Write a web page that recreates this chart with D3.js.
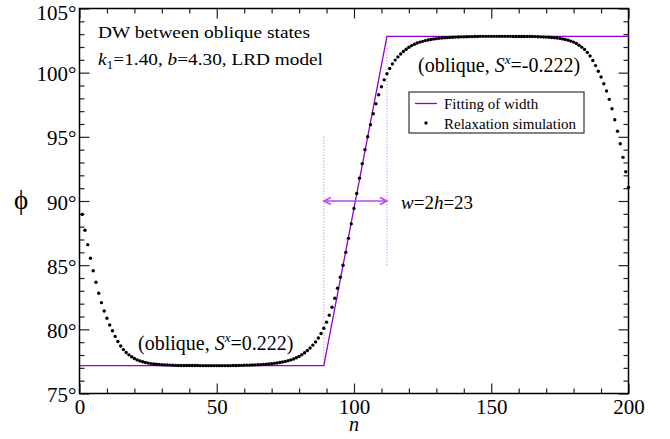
<!DOCTYPE html>
<html>
<head>
<meta charset="utf-8">
<script src="https://cdn.jsdelivr.net/npm/d3@7"></script>
<style>
  html, body { margin: 0; padding: 0; background: #fff; }
  svg text { font-family: "Liberation Serif", "Times New Roman", "DejaVu Serif", serif !important; }
</style>
</head>
<body>
<svg id="chart" width="670" height="439"></svg>
<script>
// ---- data ----
// relaxation simulation: phi (degrees) at n = 1..200
const phiSim = [
  88.95, 87.72, 86.60, 85.54, 84.57, 83.67, 82.81, 82.08, 81.43, 80.86,
  80.34, 79.89, 79.45, 79.05, 78.70, 78.42, 78.20, 78.01, 77.86, 77.73,
  77.62, 77.54, 77.47, 77.41, 77.37, 77.33, 77.30, 77.28, 77.26, 77.24,
  77.23, 77.22, 77.21, 77.20, 77.19, 77.18, 77.18, 77.18, 77.18, 77.18,
  77.18, 77.18, 77.18, 77.17, 77.17, 77.17, 77.17, 77.17, 77.17, 77.17,
  77.17, 77.17, 77.17, 77.17, 77.17, 77.18, 77.18, 77.19, 77.19, 77.20,
  77.21, 77.21, 77.22, 77.23, 77.24, 77.25, 77.27, 77.28, 77.30, 77.32,
  77.35, 77.38, 77.41, 77.45, 77.50, 77.56, 77.62, 77.69, 77.78, 77.89,
  78.02, 78.17, 78.35, 78.55, 78.77, 79.02, 79.33, 79.68, 80.09, 80.56,
  81.10, 81.72, 82.42, 83.20, 84.06, 84.99, 86.00, 87.09, 88.22, 89.41,
  90.59, 91.78, 92.91, 94.00, 95.01, 95.94, 96.80, 97.58, 98.28, 98.90,
  99.44, 99.91, 100.32, 100.67, 100.98, 101.23, 101.45, 101.65, 101.83, 101.98,
  102.11, 102.22, 102.31, 102.38, 102.44, 102.50, 102.55, 102.59, 102.62, 102.65,
  102.68, 102.70, 102.72, 102.73, 102.75, 102.76, 102.77, 102.78, 102.79, 102.79,
  102.80, 102.81, 102.81, 102.82, 102.82, 102.83, 102.83, 102.83, 102.83, 102.83,
  102.83, 102.83, 102.83, 102.83, 102.83, 102.83, 102.83, 102.82, 102.82, 102.82,
  102.82, 102.82, 102.82, 102.82, 102.82, 102.81, 102.80, 102.79, 102.78, 102.77,
  102.76, 102.74, 102.72, 102.70, 102.67, 102.63, 102.59, 102.53, 102.46, 102.38,
  102.27, 102.14, 101.99, 101.80, 101.58, 101.30, 100.95, 100.55, 100.11, 99.66,
  99.14, 98.57, 97.92, 97.19, 96.33, 95.43, 94.46, 93.40, 92.28, 91.05
];
const nStart = 1;

// fitting of width (piecewise linear)
const fitN   = [0, 89, 112, 200];
const fitPhi = [77.17, 77.17, 102.83, 102.83];

// width markers
const widthEdges = [89, 112];
const guideLeft  = [77.17, 95.0];   // dotted guide at n=89
const guideRight = [85.0, 102.83];  // dotted guide at n=112
const arrowPhi = 90;

const xMajor = [0, 50, 100, 150, 200];
const xMinor = [10, 20, 30, 40, 60, 70, 80, 90, 110, 120, 130, 140, 160, 170, 180, 190];
const yMajor = [75, 80, 85, 90, 95, 100, 105];
const yMinor = [76, 77, 78, 79, 81, 82, 83, 84, 86, 87, 88, 89, 91, 92, 93, 94, 96, 97, 98, 99, 101, 102, 103, 104];

// ---- chart ----
const SERIF = "'Liberation Serif', 'Times New Roman', 'DejaVu Serif', serif";
const svg = d3.select("#chart").attr("font-family", SERIF);
const x = d3.scaleLinear().domain([0, 200]).range([79.5, 628.5]);
const y = d3.scaleLinear().domain([75, 105]).range([393.5, 8.5]);

const VIOLET = "#9400d3";
const LIGHTV = "#b84ae6";
const GUIDE  = "#c97ff0";

// axes: ticks inward on all four sides
function styleAxis(g) {
  g.attr("font-family", SERIF);
  g.select(".domain").remove();
  g.selectAll(".tick line").attr("stroke", "#222").attr("stroke-width", 1.2);
}
svg.append("g").attr("transform", `translate(0,${y(75)})`)
  .call(d3.axisBottom(x).tickValues(xMajor).tickSize(-10).tickPadding(0).tickFormat(d3.format("d")))
  .call(styleAxis)
  .call(g => g.selectAll("text").attr("font-size", 21).attr("fill", "#000")
      .attr("dy", null).attr("y", 20.5));
svg.append("g").attr("transform", `translate(0,${y(75)})`)
  .call(d3.axisBottom(x).tickValues(xMinor).tickSize(-5).tickFormat(""))
  .call(styleAxis);
svg.append("g").attr("transform", `translate(0,${y(105)})`)
  .call(d3.axisTop(x).tickValues(xMajor).tickSize(-10).tickFormat(""))
  .call(styleAxis);
svg.append("g").attr("transform", `translate(0,${y(105)})`)
  .call(d3.axisTop(x).tickValues(xMinor).tickSize(-5).tickFormat(""))
  .call(styleAxis);

svg.append("g").attr("transform", `translate(${x(0)},0)`)
  .call(d3.axisLeft(y).tickValues(yMajor).tickSize(-10).tickPadding(3).tickFormat(d => d + "°"))
  .call(styleAxis)
  .call(g => g.selectAll("text").attr("font-size", 21).attr("fill", "#000")
      .attr("dy", null).attr("x", -3).attr("y", d => d === 105 ? 10.5 : 8));
svg.append("g").attr("transform", `translate(${x(0)},0)`)
  .call(d3.axisLeft(y).tickValues(yMinor).tickSize(-5).tickFormat(""))
  .call(styleAxis);
svg.append("g").attr("transform", `translate(${x(200)},0)`)
  .call(d3.axisRight(y).tickValues(yMajor).tickSize(-10).tickFormat(""))
  .call(styleAxis);
svg.append("g").attr("transform", `translate(${x(200)},0)`)
  .call(d3.axisRight(y).tickValues(yMinor).tickSize(-5).tickFormat(""))
  .call(styleAxis);

// frame
svg.append("rect")
  .attr("x", x(0)).attr("y", y(105))
  .attr("width", x(200) - x(0)).attr("height", y(75) - y(105))
  .attr("fill", "none").attr("stroke", "#000").attr("stroke-width", 1.5);

// axis titles
svg.append("text").attr("x", x(100)).attr("y", 431).attr("text-anchor", "middle")
  .attr("font-size", 20).attr("font-style", "italic").text("n");
svg.append("text").attr("x", 21).attr("y", y(90) + 8).attr("text-anchor", "middle")
  .attr("font-size", 27).text("ϕ");

// dotted guides
svg.append("line").attr("x1", x(widthEdges[0])).attr("x2", x(widthEdges[0]))
  .attr("y1", y(guideLeft[0])).attr("y2", y(guideLeft[1]))
  .attr("stroke", GUIDE).attr("stroke-width", 1.2).attr("stroke-dasharray", "1,2");
svg.append("line").attr("x1", x(widthEdges[1])).attr("x2", x(widthEdges[1]))
  .attr("y1", y(guideRight[0])).attr("y2", y(guideRight[1]))
  .attr("stroke", GUIDE).attr("stroke-width", 1.2).attr("stroke-dasharray", "1,2");

// fit line
const fitData = fitN.map((n, i) => [n, fitPhi[i]]);
svg.append("path").datum(fitData)
  .attr("d", d3.line().x(d => x(d[0])).y(d => y(d[1])))
  .attr("fill", "none").attr("stroke", VIOLET).attr("stroke-width", 1.3);

// double arrow for width
const defs = svg.append("defs");
defs.append("marker").attr("id", "arr").attr("viewBox", "-10 -6 12 12")
  .attr("refX", 0).attr("refY", 0).attr("markerWidth", 12).attr("markerHeight", 12)
  .attr("markerUnits", "userSpaceOnUse").attr("orient", "auto-start-reverse")
  .append("path").attr("d", "M-7,-3.5 L0,0 L-7,3.5").attr("fill", "none")
  .attr("stroke", LIGHTV).attr("stroke-width", 1.5);
svg.append("line")
  .attr("x1", x(widthEdges[0])).attr("x2", x(widthEdges[1]))
  .attr("y1", y(arrowPhi)).attr("y2", y(arrowPhi))
  .attr("stroke", LIGHTV).attr("stroke-width", 1.6)
  .attr("marker-start", "url(#arr)").attr("marker-end", "url(#arr)");

// simulation points
svg.append("g").selectAll("circle").data(phiSim).join("circle")
  .attr("cx", (d, i) => x(i + nStart)).attr("cy", d => y(d))
  .attr("r", 1.7).attr("fill", "#000");

// annotations
const t1 = svg.append("text").attr("x", 98).attr("y", 38).attr("font-size", 17)
  .attr("textLength", 212).attr("lengthAdjust", "spacingAndGlyphs");
t1.text("DW between oblique states");
const t2 = svg.append("text").attr("x", 98).attr("y", 65).attr("font-size", 17)
  .attr("textLength", 225).attr("lengthAdjust", "spacingAndGlyphs");
t2.append("tspan").attr("font-style", "italic").text("k");
t2.append("tspan").attr("font-size", 12).attr("dy", 4).text("1");
t2.append("tspan").attr("dy", -4).text("=1.40, ");
t2.append("tspan").attr("font-style", "italic").text("b");
t2.append("tspan").text("=4.30, LRD model");

const t3 = svg.append("text").attr("x", 418).attr("y", 72).attr("font-size", 20);
t3.append("tspan").text("(oblique, ");
t3.append("tspan").attr("font-style", "italic").text("S");
t3.append("tspan").attr("font-style", "italic").attr("font-size", 13).attr("dy", -8).text("x");
t3.append("tspan").attr("dy", 8).text("=-0.222)");

const t4 = svg.append("text").attr("x", 138).attr("y", 350).attr("font-size", 20);
t4.append("tspan").text("(oblique, ");
t4.append("tspan").attr("font-style", "italic").text("S");
t4.append("tspan").attr("font-style", "italic").attr("font-size", 13).attr("dy", -8).text("x");
t4.append("tspan").attr("dy", 8).text("=0.222)");

const t5 = svg.append("text").attr("x", 401).attr("y", 209).attr("font-size", 19);
t5.append("tspan").attr("font-style", "italic").text("w");
t5.append("tspan").text("=2");
t5.append("tspan").attr("font-style", "italic").text("h");
t5.append("tspan").text("=23");

// legend
const lg = svg.append("g");
lg.append("rect").attr("x", 409).attr("y", 92).attr("width", 175).attr("height", 41)
  .attr("fill", "#fff").attr("stroke", "#333").attr("stroke-width", 1.2);
lg.append("line").attr("x1", 415).attr("x2", 437).attr("y1", 103.5).attr("y2", 103.5)
  .attr("stroke", VIOLET).attr("stroke-width", 1.3);
lg.append("text").attr("x", 444).attr("y", 108.5).attr("font-size", 15).text("Fitting of width");
lg.append("circle").attr("cx", 426).attr("cy", 123).attr("r", 1.7).attr("fill", "#000");
lg.append("text").attr("x", 444).attr("y", 128.5).attr("font-size", 15).text("Relaxation simulation");
</script>
</body>
</html>
